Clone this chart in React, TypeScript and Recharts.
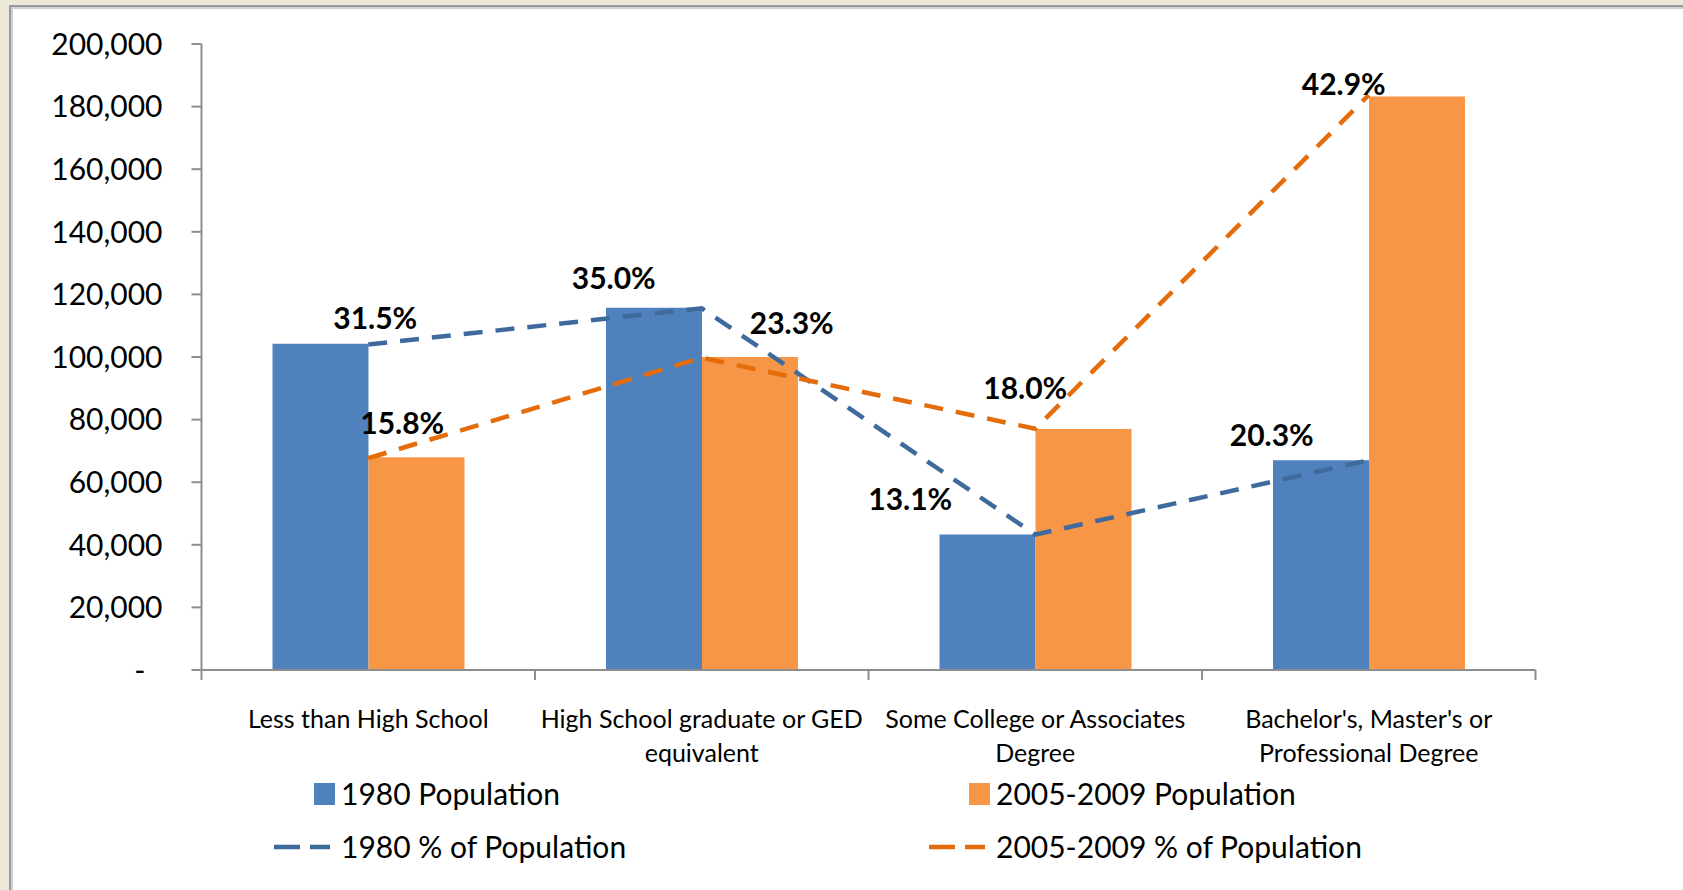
import React from "react";
import {
  ComposedChart,
  Bar,
  Line,
  XAxis,
  YAxis,
  LabelList,
} from "recharts";

// Educational attainment, 1980 vs 2005-2009
const categories = [
  "Less than High School",
  "High School graduate or GED\nequivalent",
  "Some College or Associates\nDegree",
  "Bachelor's, Master's or\nProfessional Degree",
];
const pop1980 = [104200, 115700, 43300, 67000];
const pop2005 = [68000, 100000, 77000, 183200];
const pct1980 = [31.5, 35.0, 13.1, 20.3];
const pct2005 = [15.8, 23.3, 18.0, 42.9];
const yTicks = [0, 20000, 40000, 60000, 80000, 100000, 120000, 140000, 160000, 180000, 200000];
const seriesNames = [
  "1980 Population",
  "2005-2009 Population",
  "1980 % of Population",
  "2005-2009 % of Population",
];

const W = 1683;
const H = 890;
const FONT = "Lato, 'Open Sans', sans-serif";
const BLUE = "#4F81BD";
const ORANGE = "#F79646";
const BLUE_LINE = "#3F6A9C";
const ORANGE_LINE = "#E46C0A";
const AXIS = "#8E8E8E";
const Y_MAX = 200000;

const data = categories.map((category, i) => ({
  category,
  pop1980: pop1980[i],
  pop2005: pop2005[i],
  pct1980: pct1980[i],
  pct2005: pct2005[i],
}));

// the % lines sit on their own hidden axes, scaled so that 100% = column total
const sum = (a: number[]) => a.reduce((s, v) => s + v, 0);
const pctTop1980 = (Y_MAX / sum(pop1980)) * 100;
const pctTop2005 = (Y_MAX / sum(pop2005)) * 100;

const margin = { top: 44, right: 147.5, bottom: 130, left: 0 };
const plotWidth = W - 201.5 - margin.right;

// hand-placed data labels (like Excel's dragged labels), offset from the point
const labelShift1980 = [
  [7, -26],
  [-88, -30],
  [-125, -35],
  [-97, -25],
];
const labelShift2005 = [
  [34, -35],
  [90, -35],
  [-10, -41],
  [-25, -11],
];

function YTick(props: any) {
  const { x, y, payload } = props;
  const v = payload.value;
  const text = v === 0 ? "-" : v.toLocaleString("en-US");
  return (
    <text
      x={v === 0 ? x - 17 : x}
      y={y}
      dy="0.36em"
      textAnchor="end"
      fontFamily={FONT}
      fontSize={30}
      fill="#000"
    >
      {text}
    </text>
  );
}

function CategoryTick(props: any) {
  const { x, y, payload, index, visibleTicksCount } = props;
  const half = payload.offset ?? plotWidth / categories.length / 2;
  const lines = String(payload.value).split("\n");
  const isLast = index === visibleTicksCount - 1;
  return (
    <g>
      <line x1={x - half} x2={x - half} y1={y} y2={y + 10} stroke={AXIS} strokeWidth={2} />
      {isLast && (
        <line x1={x + half} x2={x + half} y1={y} y2={y + 10} stroke={AXIS} strokeWidth={2} />
      )}
      <text textAnchor="middle" fontFamily={FONT} fontSize={25} fill="#000">
        {lines.map((l, i) => (
          <tspan key={i} x={x} y={y + 49 + i * 34} dy="0.35em">
            {l}
          </tspan>
        ))}
      </text>
    </g>
  );
}

const pctLabel = (shift: number[][]) => (props: any) => {
  const x = props.x ?? props.viewBox?.x;
  const y = props.y ?? props.viewBox?.y;
  if (x == null || y == null) return null;
  const [dx, dy] = shift[props.index] ?? [0, -30];
  return (
    <text
      x={x + dx}
      y={y + dy}
      dy="0.36em"
      textAnchor="middle"
      fontFamily={FONT}
      fontSize={30}
      fontWeight={700}
      fill="#000"
    >
      {Number(props.value).toFixed(1)}%
    </text>
  );
};

function LegendBox() {
  const items = [
    { name: seriesNames[0], color: BLUE, kind: "bar", left: 341, top: 793 },
    { name: seriesNames[1], color: ORANGE, kind: "bar", left: 996, top: 793 },
    { name: seriesNames[2], color: BLUE_LINE, kind: "line", left: 341, top: 846 },
    { name: seriesNames[3], color: ORANGE_LINE, kind: "line", left: 996, top: 846 },
  ];
  return (
    <>
      {items.map((it) => (
        <div key={it.name}>
          {it.kind === "bar" ? (
            <div
              style={{
                position: "absolute",
                left: it.left - 27,
                top: it.top - 10,
                width: 21,
                height: 22,
                background: it.color,
              }}
            />
          ) : (
            <svg
              style={{ position: "absolute", left: it.left - 67, top: it.top - 4 }}
              width={56}
              height={10}
            >
              <line
                x1={0}
                x2={56}
                y1={5}
                y2={5}
                stroke={it.color}
                strokeWidth={4.5}
                strokeDasharray="26 10"
              />
            </svg>
          )}
          <div
            style={{
              position: "absolute",
              left: it.left,
              top: it.top - 20,
              height: 40,
              lineHeight: "40px",
              fontFamily: FONT,
              fontSize: 30,
              color: "#000",
              whiteSpace: "nowrap",
            }}
          >
            {it.name}
          </div>
        </div>
      ))}
    </>
  );
}

export default function App() {
  return (
    <div
      style={{
        position: "absolute",
        left: 0,
        top: 0,
        width: W,
        height: H,
        background: "#ECE9D8",
        overflow: "hidden",
        fontFamily: FONT,
      }}
    >
      <div
        style={{
          position: "absolute",
          left: 9,
          top: 5,
          right: 0,
          bottom: 0,
          borderLeft: "2px solid #9A9A9A",
          borderTop: "2px solid #9A9A9A",
        }}
      >
        <div
          style={{
            position: "absolute",
            inset: 0,
            background: "#fff",
            borderLeft: "2px solid #D0D0D0",
            borderTop: "2px solid #D0D0D0",
          }}
        />
      </div>
      <div style={{ position: "absolute", left: 0, top: 0 }}>
        <ComposedChart width={W} height={H} data={data} margin={margin} barGap={0}>
          <XAxis
            dataKey="category"
            interval={0}
            tickSize={0}
            tickMargin={0}
            tickLine={false}
            axisLine={{ stroke: AXIS, strokeWidth: 2 }}
            tick={<CategoryTick />}
            height={90}
          />
          <YAxis
            yAxisId="pop"
            width={201.5}
            domain={[0, Y_MAX]}
            ticks={yTicks}
            interval={0}
            tickSize={10}
            tickMargin={29}
            axisLine={{ stroke: AXIS, strokeWidth: 2 }}
            tickLine={{ stroke: AXIS, strokeWidth: 2 }}
            tick={<YTick />}
          />
          <YAxis yAxisId="p1980" orientation="right" hide domain={[0, pctTop1980]} />
          <YAxis yAxisId="p2005" orientation="right" hide domain={[0, pctTop2005]} />
          <Bar
            yAxisId="pop"
            dataKey="pop1980"
            name={seriesNames[0]}
            fill={BLUE}
            barSize={96}
            isAnimationActive={false}
          />
          <Bar
            yAxisId="pop"
            dataKey="pop2005"
            name={seriesNames[1]}
            fill={ORANGE}
            barSize={96}
            isAnimationActive={false}
          />
          <Line
            yAxisId="p1980"
            dataKey="pct1980"
            name={seriesNames[2]}
            stroke={BLUE_LINE}
            strokeWidth={4.5}
            strokeDasharray="19 13"
            dot={false}
            activeDot={false}
            isAnimationActive={false}
          >
            <LabelList dataKey="pct1980" content={pctLabel(labelShift1980)} />
          </Line>
          <Line
            yAxisId="p2005"
            dataKey="pct2005"
            name={seriesNames[3]}
            stroke={ORANGE_LINE}
            strokeWidth={4.5}
            strokeDasharray="19 13"
            dot={false}
            activeDot={false}
            isAnimationActive={false}
          >
            <LabelList dataKey="pct2005" content={pctLabel(labelShift2005)} />
          </Line>
        </ComposedChart>
      </div>
      <LegendBox />
    </div>
  );
}
